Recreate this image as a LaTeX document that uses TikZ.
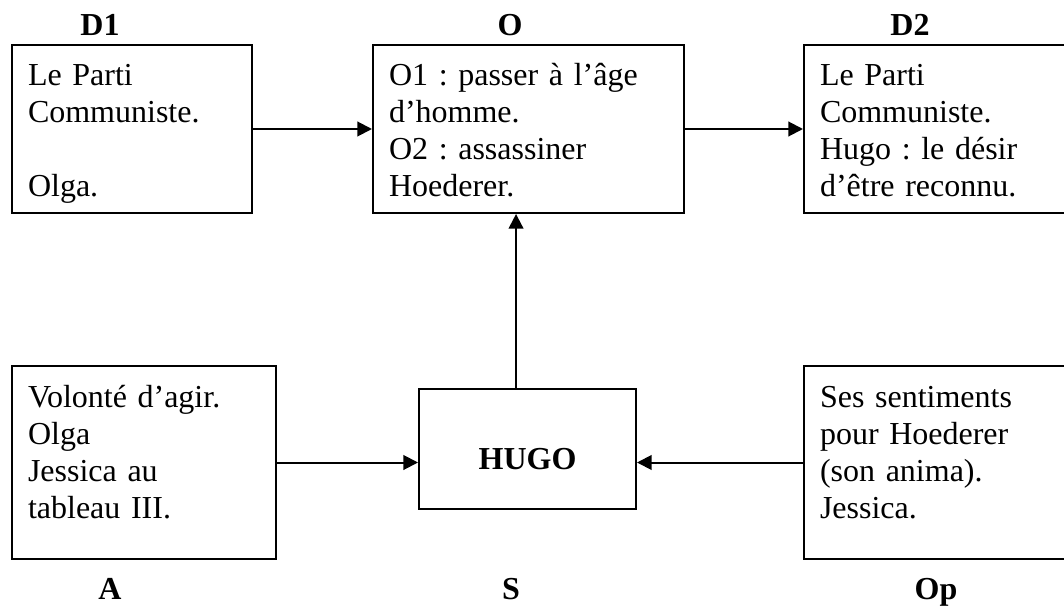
\documentclass[tikz,border=0pt]{standalone}
\usepackage{fontspec}
\setmainfont{Liberation Serif}
\usepackage{tikz}
\usetikzlibrary{arrows.meta}
\frenchspacing
\tikzstyle{actbox} = [rectangle, draw=black, line width=1.5pt, anchor=north west, align=left, inner xsep=12pt, inner ysep=0pt, text height=30.75pt, font=\fontsize{24pt}{27.75pt}\selectfont]
\tikzstyle{subject} = [rectangle, draw=black, line width=1.5pt, minimum width=162.75pt, minimum height=90pt, text height=30pt, text depth=0pt, font=\fontsize{24pt}{27.75pt}\selectfont\bfseries]
\tikzstyle{role} = [anchor=base, inner sep=0pt, font=\fontsize{24pt}{27.75pt}\selectfont\bfseries]
\tikzstyle{arrow} = [line width=1.5pt,-{Triangle[length=11pt,width=11pt]}]

\begin{document}
\begin{tikzpicture}[x=0.75pt, y=-0.75pt]
    \useasboundingbox (0,0) rectangle (1064,606);
    \clip (0,0) rectangle (1064,606);
    % actant boxes
    \node (D1) [actbox, text width=156pt, text depth=95.25pt] at (11,44) {Le Parti\\Communiste.\\~\\Olga.};
    \node (O) [actbox, text width=209.25pt, text depth=95.25pt] at (372,44) {O1 : passer à l'âge\\d'homme.\\O2 : assassiner\\Hoederer.};
    \node (D2) [actbox, text width=201pt, text depth=95.25pt] at (803,44) {Le Parti\\Communiste.\\Hugo : le désir\\d'être reconnu.};
    \node (A) [actbox, text width=174pt, text depth=114pt] at (11,365) {Volonté d'agir.\\Olga\\Jessica au\\tableau III.};
    \node (Op) [actbox, text width=201pt, text depth=114pt] at (803,365) {Ses sentiments\\pour Hoederer\\(son anima).\\Jessica.};
    \node (HUGO) [subject] at (527.5,449) {HUGO};
    % labels
    \node (lD1) [role] at (100,36) {D1};
    \node (lO) [role] at (510,36) {O};
    \node (lD2) [role] at (910,36) {D2};
    \node (lA) [role] at (110,599) {A};
    \node (lS) [role] at (511,599) {S};
    \node (lOp) [role] at (936,599) {Op};
    % arrows
    \draw [arrow] (D1.east) -- (D1.east -| O.west);
    \draw [arrow] (O.east) -- (O.east -| D2.west);
    \draw [arrow] ([xshift=-8.6pt]HUGO.north) -- ([xshift=-8.6pt]HUGO.north |- O.south);
    \draw [arrow] (A.east) -- (A.east -| HUGO.west);
    \draw [arrow] (Op.west) -- (Op.west -| HUGO.east);
\end{tikzpicture}
\end{document}
